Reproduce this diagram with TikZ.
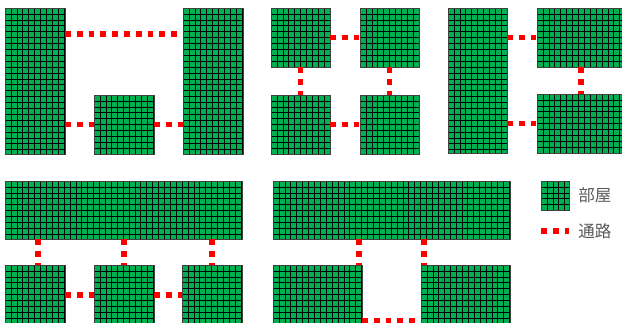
\documentclass[tikz,border=0pt]{standalone}
\usepackage{fontspec}
\usepackage{xcolor}
\usepackage{tikz}
\usetikzlibrary{positioning}
\newfontfamily\cjk{Noto Sans CJK JP}
\definecolor{roomfill}{RGB}{0,176,80}
\definecolor{corridorred}{RGB}{255,0,0}
\definecolor{labelgray}{RGB}{89,89,89}

\begin{document}
\begin{tikzpicture}[
    x=0.75pt, y=-0.75pt,
    node distance=21.75pt,
    gridline/.style={black, line width=0.45pt},
    room/.style 2 args={rectangle, draw=black!75, line width=0.5pt, fill=roomfill, anchor=north west,
        inner sep=0pt, outer sep=0pt, minimum width=#1*0.75pt, minimum height=#2*0.75pt,
        path picture={
            \foreach \k in {1,...,41} \draw[gridline] ({-#1/2+\k*5.9},{-#2/2}) -- ++(0,#2);
            \foreach \k in {1,...,25} \draw[gridline] ({-#1/2},{-#2/2+\k*5.9}) -- ++(#1,0);
        }},
    corridor/.style={draw=corridorred, line width=4.4pt, dash pattern=on 4.4pt off 4.45pt},
    legendtext/.style={font=\cjk\fontsize{12.4pt}{14pt}\selectfont, text=labelgray, inner sep=0pt},
]
    \useasboundingbox (0,0) rectangle (622,322);

    % top row
    \node[room={60}{146}] (left1) at (5,8) {};
    \node[room={60}{59}, right=of left1.south east, anchor=south west] (mid1) {};
    \node[room={60}{146}, right=of mid1.south east, anchor=south west] (right1) {};

    \node[room={59}{59}] (nw2) at (271,8) {};
    \node[room={59}{59}] (ne2) at (360,8) {};
    \node[room={59}{59}] (sw2) at (271,95) {};
    \node[room={59}{59}] (se2) at (360,95) {};

    \node[room={59}{145}] (left3) at (448,8) {};
    \node[room={86}{59}] (ne3) at (537,8) {};
    \node[room={86}{59}] (se3) at (537,94) {};

    % bottom row
    \node[room={237}{58}] (hall4) at (5,181) {};
    \node[room={60}{58}] (sw4) at (5,265) {};
    \node[room={60}{58}] (mid4) at (94,265) {};
    \node[room={60}{58}] (se4) at (182,265) {};

    \node[room={237}{58}] (hall5) at (273,181) {};
    \node[room={89}{58}] (sw5) at (273,265) {};
    \node[room={89}{58}] (se5) at (421,265) {};

    % legend
    \node[room={28}{29}] (legroom) at (541,181) {};
    \node[legendtext, right=6.75pt of legroom] (roomlabel) {部屋};
    \coordinate (legfrom) at (541,231);
    \coordinate (legto) at (569,231);
    \node[legendtext, right=6.75pt of legto] (pathlabel) {通路};

    % corridors
    \draw[corridor] ([yshift=-19.5pt]left1.north east) -- ([yshift=-19.5pt]right1.north west);
    \draw[corridor] (mid1.west -| left1.east) -- (mid1.west);
    \draw[corridor] (mid1.east) -- (mid1.east -| right1.west);

    \draw[corridor] (nw2.east) -- (ne2.west);
    \draw[corridor] (sw2.east) -- (se2.west);
    \draw[corridor] (nw2.south) -- (sw2.north);
    \draw[corridor] (ne2.south) -- (se2.north);

    \draw[corridor] (ne3.west -| left3.east) -- (ne3.west);
    \draw[corridor] (se3.west -| left3.east) -- (se3.west);
    \draw[corridor] ([xshift=0.75pt]ne3.south) -- ([xshift=0.75pt]se3.north);

    \draw[corridor] ([xshift=2pt]sw4.north |- hall4.south) -- ([xshift=2pt]sw4.north);
    \draw[corridor] (mid4.north |- hall4.south) -- (mid4.north);
    \draw[corridor] (se4.north |- hall4.south) -- (se4.north);
    \draw[corridor] ([yshift=-1pt]sw4.east) -- ([yshift=-1pt]mid4.west);
    \draw[corridor] ([yshift=-1pt]mid4.east) -- ([yshift=-1pt]se4.west);

    \draw[corridor] ([xshift=-2pt]sw5.north east |- hall5.south) -- ([xshift=-2pt]sw5.north east);
    \draw[corridor] ([xshift=2pt]se5.north west |- hall5.south) -- ([xshift=2pt]se5.north west);
    \draw[corridor] ([yshift=1.5pt]sw5.south east) -- ([yshift=1.5pt]se5.south west);

    \draw[corridor] (legfrom) -- (legto);
\end{tikzpicture}
\end{document}
